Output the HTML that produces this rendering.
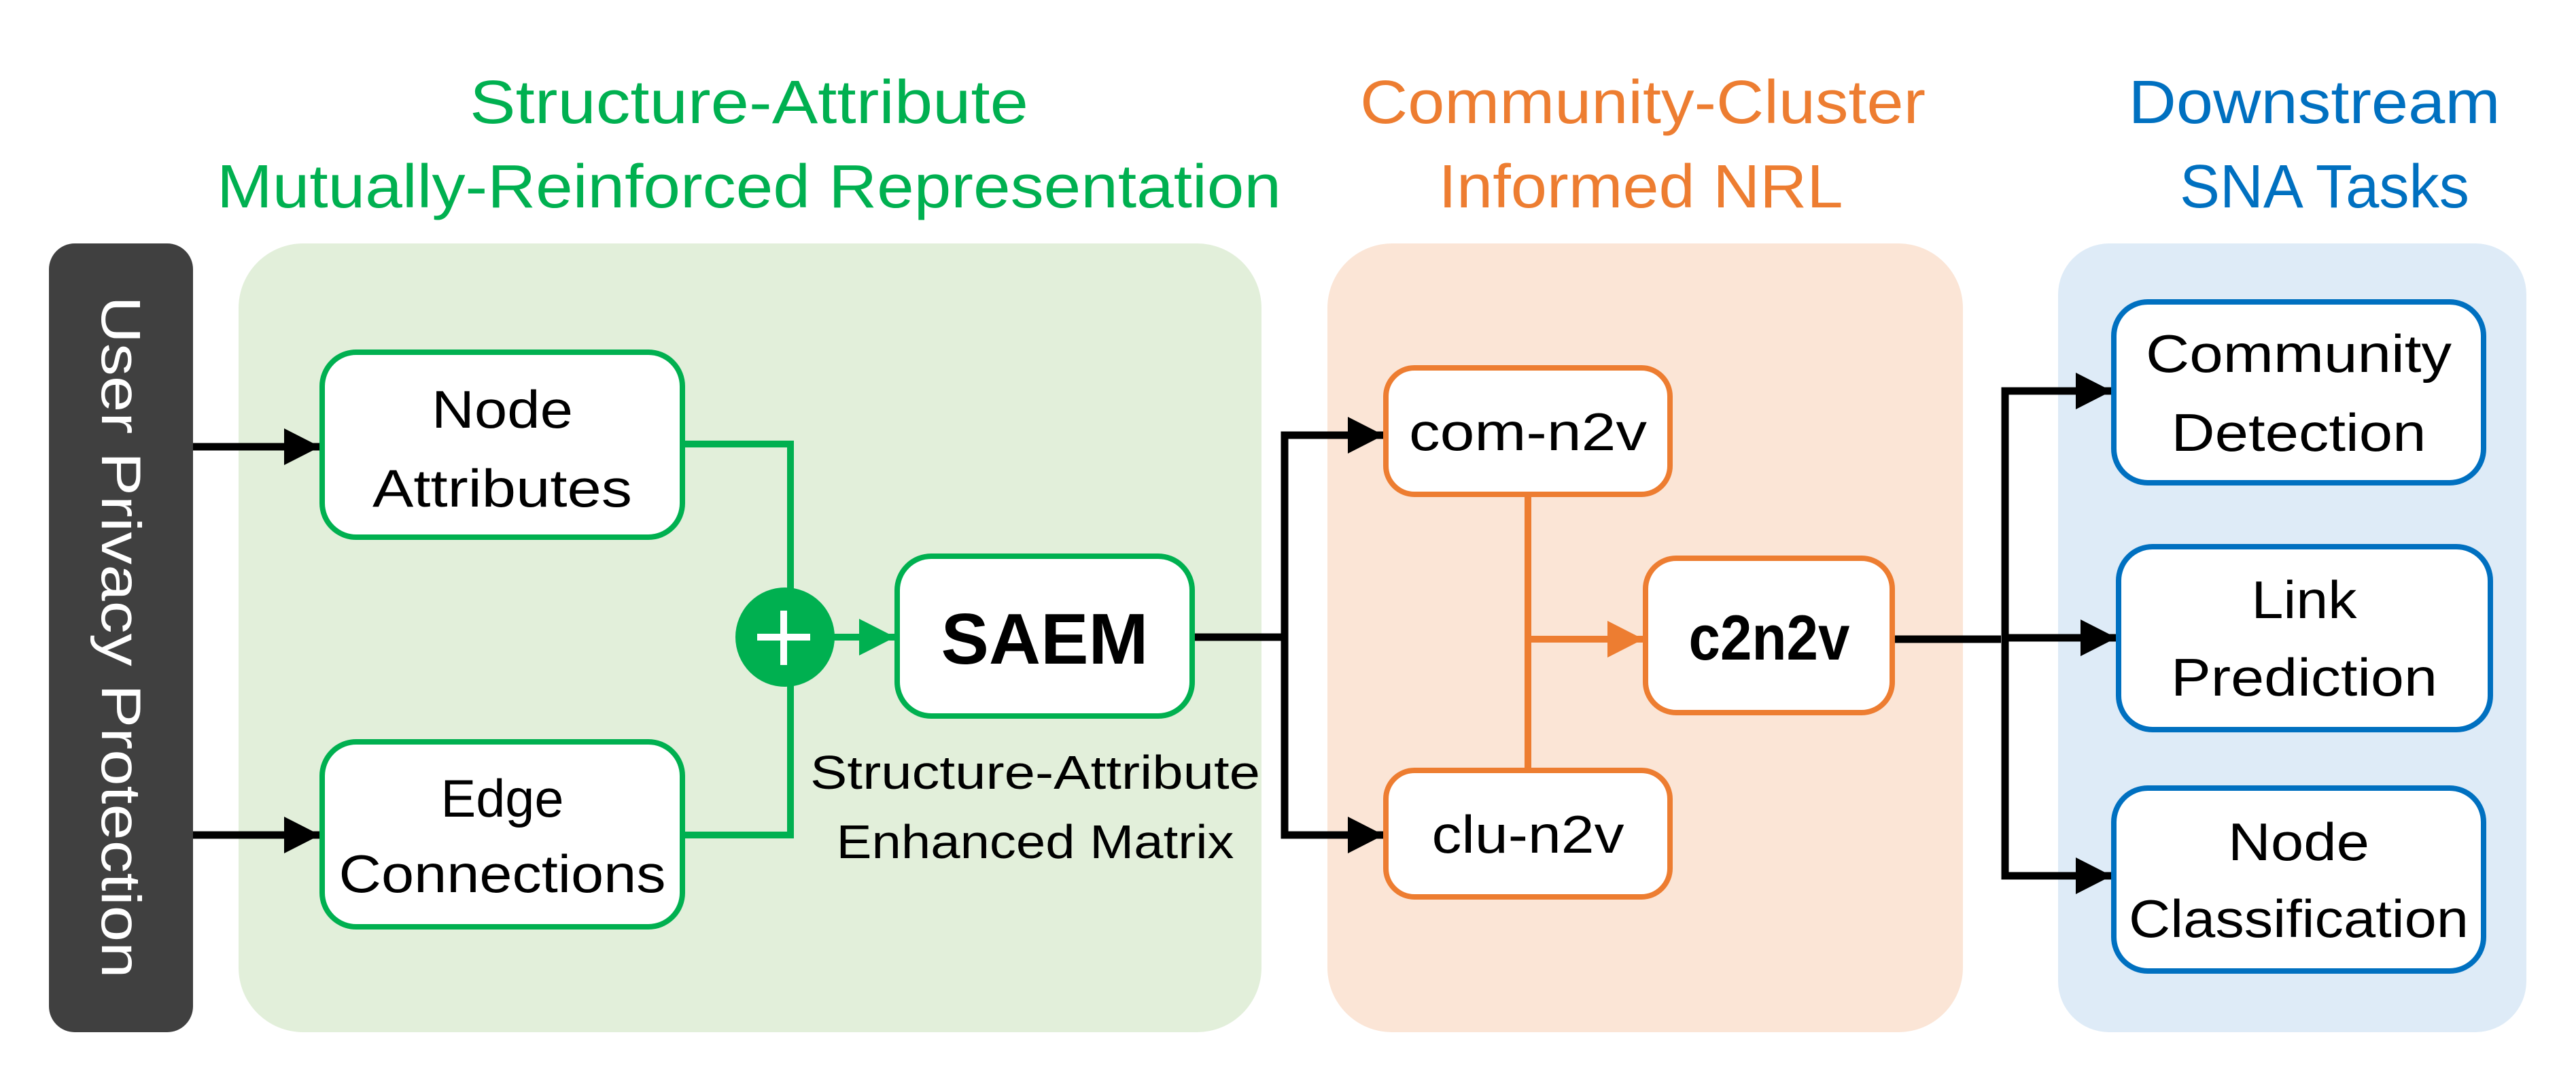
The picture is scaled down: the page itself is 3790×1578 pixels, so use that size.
<!DOCTYPE html>
<html><head><meta charset="utf-8"><style>
html,body{margin:0;padding:0;background:#fff;}
svg{display:block;}
text{font-family:"Liberation Sans",sans-serif;}
</style></head><body>
<svg width="3790" height="1578" viewBox="0 0 3790 1578" xmlns="http://www.w3.org/2000/svg">
<defs>
<marker id="ab" markerUnits="userSpaceOnUse" markerWidth="54" markerHeight="56" refX="52" refY="27" orient="auto"><path d="M0,0 L53,27 L0,54 Z" fill="#000"/></marker>
<marker id="ag" markerUnits="userSpaceOnUse" markerWidth="54" markerHeight="56" refX="52" refY="27" orient="auto"><path d="M0,0 L53,27 L0,54 Z" fill="#00B050"/></marker>
<marker id="ao" markerUnits="userSpaceOnUse" markerWidth="54" markerHeight="56" refX="52" refY="27" orient="auto"><path d="M0,0 L53,27 L0,54 Z" fill="#ED7D31"/></marker>
</defs>
<g font-size="90" text-anchor="middle">
<text x="1102" y="181" fill="#00B050" textLength="822" lengthAdjust="spacingAndGlyphs">Structure-Attribute</text>
<text x="1102" y="305" fill="#00B050" textLength="1566" lengthAdjust="spacingAndGlyphs">Mutually-Reinforced Representation</text>
<text x="2417" y="181" fill="#ED7D31" textLength="832" lengthAdjust="spacingAndGlyphs">Community-Cluster</text>
<text x="2414" y="305" fill="#ED7D31" textLength="595" lengthAdjust="spacingAndGlyphs">Informed NRL</text>
<text x="3405" y="181" fill="#0070C0" textLength="547" lengthAdjust="spacingAndGlyphs">Downstream</text>
<text x="3420" y="305" fill="#0070C0" textLength="426" lengthAdjust="spacingAndGlyphs">SNA Tasks</text>
</g>
<rect x="72" y="358" width="212" height="1160" rx="38" fill="#404040"/>
<text transform="translate(150,937) rotate(90)" font-size="82" fill="#fff" text-anchor="middle" textLength="1003" lengthAdjust="spacingAndGlyphs">User Privacy Protection</text>
<rect x="351" y="358" width="1505" height="1160" rx="95" fill="#E2EFDA"/>
<rect x="1953" y="358" width="935" height="1160" rx="95" fill="#FBE5D6"/>
<rect x="3028" y="358" width="689" height="1160" rx="75" fill="#DEEBF7"/>
<g fill="none" stroke-width="10">
<line x1="284" y1="657" x2="470" y2="657" stroke="#000" stroke-width="11" marker-end="url(#ab)"/>
<line x1="284" y1="1228" x2="470" y2="1228" stroke="#000" stroke-width="11" marker-end="url(#ab)"/>
<polyline points="1008,653 1163,653 1163,1228 1008,1228" stroke="#00B050"/>
<line x1="1220" y1="937" x2="1316" y2="937" stroke="#00B050" marker-end="url(#ag)"/>
<polyline points="1757,937 1890,937" stroke="#000" stroke-width="11"/>
<polyline points="2035,640 1890,640 1890,1228 2035,1228" stroke="#000" stroke-width="11"/>
<line x1="1950" y1="640" x2="2035" y2="640" stroke="#000" stroke-width="11" marker-end="url(#ab)"/>
<line x1="1950" y1="1228" x2="2035" y2="1228" stroke="#000" stroke-width="11" marker-end="url(#ab)"/>
<line x1="2248" y1="730" x2="2248" y2="1129" stroke="#ED7D31"/>
<line x1="2248" y1="940" x2="2417" y2="940" stroke="#ED7D31" marker-end="url(#ao)"/>
<polyline points="2787,940 2944,940" stroke="#000" stroke-width="11"/>
</g>
<g fill="none" stroke="#000" stroke-width="11">
<line x1="3040" y1="575" x2="3106" y2="575" marker-end="url(#ab)"/>
<line x1="2950" y1="938" x2="3113" y2="938" marker-end="url(#ab)"/>
<line x1="3040" y1="1288" x2="3106" y2="1288" marker-end="url(#ab)"/>
<polyline points="3040,575 2950,575 2950,1288 3040,1288"/>
</g>
<circle cx="1155" cy="937" r="73" fill="#00B050"/>
<rect x="1114" y="932" width="78" height="10" fill="#fff"/>
<rect x="1148" y="898" width="10" height="80" fill="#fff"/>
<g fill="#fff" stroke-width="8">
<rect x="474" y="518" width="530" height="272" rx="50" stroke="#00B050"/>
<rect x="474" y="1091" width="530" height="272" rx="50" stroke="#00B050"/>
<rect x="1320" y="818" width="434" height="235" rx="50" stroke="#00B050"/>
<rect x="2039" y="541" width="418" height="186" rx="42" stroke="#ED7D31"/>
<rect x="2039" y="1133" width="418" height="186" rx="42" stroke="#ED7D31"/>
<rect x="2421" y="821" width="363" height="227" rx="45" stroke="#ED7D31"/>
<rect x="3110" y="444" width="544" height="266" rx="50" stroke="#0070C0"/>
<rect x="3117" y="804" width="547" height="269" rx="50" stroke="#0070C0"/>
<rect x="3110" y="1159" width="544" height="269" rx="50" stroke="#0070C0"/>
</g>
<g font-size="78" fill="#000" text-anchor="middle">
<text x="739" y="629" textLength="208" lengthAdjust="spacingAndGlyphs">Node</text>
<text x="739" y="745" textLength="382" lengthAdjust="spacingAndGlyphs">Attributes</text>
<text x="739" y="1201" textLength="181" lengthAdjust="spacingAndGlyphs">Edge</text>
<text x="739" y="1312" textLength="481" lengthAdjust="spacingAndGlyphs">Connections</text>
<text x="1537" y="976" font-size="106" font-weight="bold" textLength="305" lengthAdjust="spacingAndGlyphs">SAEM</text>
<text x="1523" y="1160" font-size="70" textLength="662" lengthAdjust="spacingAndGlyphs">Structure-Attribute</text>
<text x="1523" y="1262" font-size="70" textLength="585" lengthAdjust="spacingAndGlyphs">Enhanced Matrix</text>
<text x="2248" y="662" textLength="350" lengthAdjust="spacingAndGlyphs">com-n2v</text>
<text x="2248" y="1254" textLength="283" lengthAdjust="spacingAndGlyphs">clu-n2v</text>
<text x="2603" y="970" font-size="94" font-weight="bold" textLength="237" lengthAdjust="spacingAndGlyphs">c2n2v</text>
<text x="3382" y="547" textLength="450" lengthAdjust="spacingAndGlyphs">Community</text>
<text x="3382" y="663" textLength="375" lengthAdjust="spacingAndGlyphs">Detection</text>
<text x="3390" y="909" textLength="155" lengthAdjust="spacingAndGlyphs">Link</text>
<text x="3390" y="1023" textLength="392" lengthAdjust="spacingAndGlyphs">Prediction</text>
<text x="3382" y="1265" textLength="208" lengthAdjust="spacingAndGlyphs">Node</text>
<text x="3382" y="1378" textLength="500" lengthAdjust="spacingAndGlyphs">Classification</text>
</g>
</svg>
</body></html>
